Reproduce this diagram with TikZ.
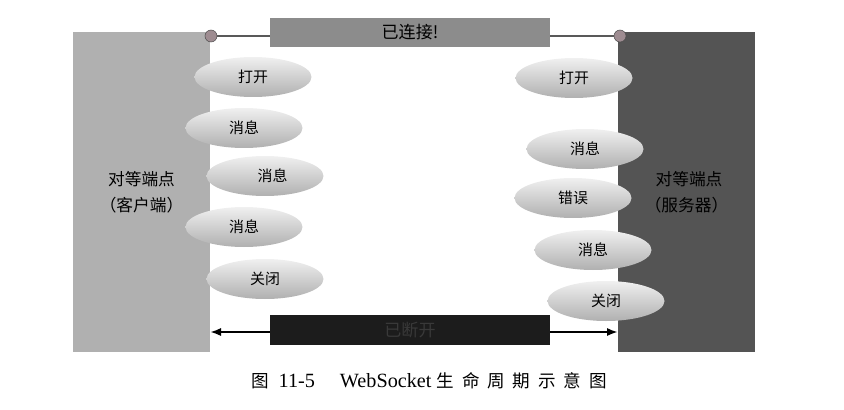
\documentclass[tikz,border=0pt]{standalone}
\usepackage{fontspec}
\setmainfont{Liberation Serif}
\newfontfamily\cjk{Noto Sans CJK SC}
\newfontfamily\cjkcap[LetterSpace=45]{Noto Sans CJK SC}
\usetikzlibrary{shapes.geometric, arrows.meta}
\definecolor{duanhui}{rgb}{0.69,0.69,0.69}
\definecolor{fuwuhui}{rgb}{0.33,0.33,0.33}
\definecolor{tiaohui}{rgb}{0.55,0.55,0.55}
\definecolor{heitiao}{rgb}{0.11,0.11,0.11}
\definecolor{dianhui}{rgb}{0.62,0.55,0.57}
\tikzset{ %样式
    peer/.style={draw=none, minimum width=2.74cm, minimum height=6.4cm, inner sep=0pt, align=center, font=\cjk\fontsize{9.5}{15}\selectfont},
    bar/.style={draw=none, minimum width=5.6cm, minimum height=0.6cm, inner sep=0pt, font=\cjk\fontsize{9.7}{12}\selectfont},
    msg/.style={ellipse, draw=none, minimum width=2.34cm, minimum height=0.8cm, inner sep=0pt, top color=gray!12, bottom color=gray!62, font=\cjk\fontsize{8.5}{10}\selectfont},
    dot/.style={circle, fill=dianhui, draw=gray!60!black, line width=0.3pt, minimum size=0.24cm, inner sep=0pt},
}

\begin{document}
\begin{tikzpicture}[x=0.02cm, y=-0.02cm]
    \useasboundingbox (0,0) rectangle (844,409);
    % 两个端点
    \node[peer, fill=duanhui] (client) at (141.5,192) {对等端点\\（客户端）};
    \node[peer, fill=fuwuhui] (server) at (686.5,192) {\hspace*{0.1cm}对等端点\\（服务器）};
    % 已连接
    \node[bar, fill=tiaohui] (conn) at (410,32.5) {已连接!};
    \node[dot] (dotL) at (211,36) {};
    \node[dot] (dotR) at (620,36) {};
    \draw[gray!70!black, line width=1pt] (dotL) -- (dotL -| conn.west);
    \draw[gray!70!black, line width=1pt] (conn.east |- dotR) -- (dotR);
    % 已断开
    \coordinate (arrL) at (210,332);
    \coordinate (arrR) at (618,332);
    \draw[{Latex[length=2.2mm]}-{Latex[length=2.2mm]}, line width=1.6pt] (arrL) -- (arrR);
    \node[bar, fill=heitiao, text=gray!45!black] (disc) at (410,330) {已断开};
    % 客户端消息
    \node[msg] (cOpen) at (253,77) {打开};
    \node[msg] (cMsgA) at (244,128) {消息};
    \node[msg] (cMsgB) at (265,176) {\hspace*{0.3cm}消息};
    \node[msg] (cMsgC) at (244,227) {消息};
    \node[msg] (cClose) at (265,279) {关闭};
    % 服务器消息
    \node[msg] (sOpen) at (574,78) {打开};
    \node[msg] (sMsgA) at (585,149) {消息};
    \node[msg] (sErr) at (573,198) {错误};
    \node[msg] (sMsgB) at (593,250) {消息};
    \node[msg] (sClose) at (606,301) {关闭};
    % 图题
    \node[font=\fontsize{11.5}{13}\selectfont] (caption) at (429,381) {{\cjk\fontsize{10}{12}\selectfont 图}\ \ 11-5\hspace{0.5cm}WebSocket {\cjkcap\fontsize{10}{12}\selectfont 生命周期示意图}};
\end{tikzpicture}
\end{document}
